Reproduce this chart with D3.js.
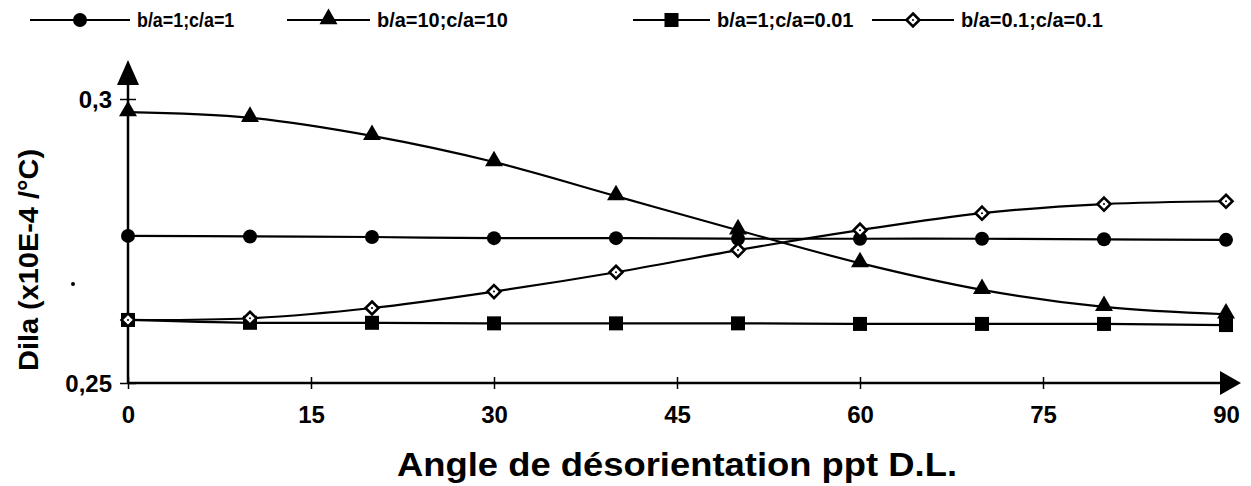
<!DOCTYPE html>
<html><head><meta charset="utf-8">
<script src="https://cdn.jsdelivr.net/npm/d3@7"></script>
<style>body{margin:0;background:#fff}svg{display:block}text{font-family:"Liberation Sans",Arial,sans-serif;fill:#000}</style>
</head><body><svg id="c" width="1251" height="486"></svg>
<script>
const angles = [0,10,20,30,40,50,60,70,80,90];
const seriesNames = ["b/a=1;c/a=1","b/a=10;c/a=10","b/a=1;c/a=0.01","b/a=0.1;c/a=0.1"];
const sCircle   = [0.2759,0.2758,0.2757,0.2755,0.2755,0.2754,0.2754,0.2754,0.2753,0.2752];
const sTriangle = [0.2977,0.2967,0.2935,0.2889,0.2829,0.2769,0.2711,0.2664,0.2634,0.2621];
const sSquare   = [0.2611,0.2606,0.2606,0.2605,0.2605,0.2605,0.2604,0.2604,0.2604,0.2602];
const sDiamond  = [0.2611,0.2614,0.2632,0.2661,0.2695,0.2734,0.2769,0.2799,0.2815,0.2820];
const xTicks = [0,15,30,45,60,75,90];
const yTicks = [0.25,0.3];
const yTickLabels = ["0,25","0,3"];
const xTitle = "Angle de désorientation ppt D.L.";
const yTitle = "Dila (x10E-4 /°C)";

const svg = d3.select("#c");
const x = d3.scaleLinear().domain([0,90]).range([128,1226]);
const y = d3.scaleLinear().domain([0.25,0.3]).range([383,99]);

const series = [
  {name:seriesNames[0], vals:sCircle, sym:"circle"},
  {name:seriesNames[1], vals:sTriangle, sym:"triangle"},
  {name:seriesNames[2], vals:sSquare, sym:"square"},
  {name:seriesNames[3], vals:sDiamond, sym:"diamond"}
];

function marker(g, sym, cx, cy){
  if(sym==="circle") g.append("circle").attr("cx",cx).attr("cy",cy).attr("r",7).attr("fill","#000");
  else if(sym==="triangle") g.append("path").attr("d",d3.symbol(d3.symbolTriangle,140)()).attr("transform",`translate(${cx},${cy-1})`).attr("fill","#000");
  else if(sym==="square") g.append("rect").attr("x",cx-7).attr("y",cy-7).attr("width",14).attr("height",14).attr("fill","#000");
  else if(sym==="diamond") {
    g.append("path").attr("d",`M${cx},${cy-6.5}L${cx+6.5},${cy}L${cx},${cy+6.5}L${cx-6.5},${cy}Z`).attr("fill","#fff").attr("stroke","#000").attr("stroke-width",2.6);
    g.append("circle").attr("cx",cx).attr("cy",cy).attr("r",1).attr("fill","#000");
  }
}

// axes
const ax = svg.append("g");
ax.append("line").attr("x1",x(0)).attr("x2",1222).attr("y1",y(0.25)).attr("y2",y(0.25)).attr("stroke","#000").attr("stroke-width",2.5);
ax.append("path").attr("d",`M1220,${y(0.25)-12}L1241,${y(0.25)}L1220,${y(0.25)+12}Z`).attr("fill","#000");
ax.append("line").attr("x1",x(0)).attr("x2",x(0)).attr("y1",y(0.25)).attr("y2",84).attr("stroke","#000").attr("stroke-width",2.5);
ax.append("path").attr("d",`M${x(0)-11},85L${x(0)},60L${x(0)+11},85Z`).attr("fill","#000");

const xa = d3.axisBottom(x).tickValues(xTicks).tickSize(0).tickFormat(d3.format("d"));
const gx = svg.append("g").attr("transform",`translate(0,${y(0.25)})`).call(xa);
gx.select(".domain").remove();
gx.selectAll(".tick line").remove();
gx.selectAll(".tick").append("line").attr("y1",-6).attr("y2",6).attr("stroke","#000").attr("stroke-width",1.5);
gx.selectAll(".tick text").attr("y",40).attr("dy",0).style("font-size","24px").style("font-weight","bold").attr("fill","#000");

const ya = d3.axisLeft(y).tickValues(yTicks).tickSize(0).tickFormat((d,i)=>yTickLabels[i]);
const gy = svg.append("g").attr("transform",`translate(${x(0)},0)`).call(ya);
gy.select(".domain").remove();
gy.selectAll(".tick line").remove();
gy.selectAll(".tick").append("line").attr("x1",-8).attr("x2",8).attr("stroke","#000").attr("stroke-width",1.5);
gy.selectAll(".tick text").attr("x",-16).attr("dy","0.36em").style("font-size","24px").style("font-weight","bold").attr("fill","#000");

// titles
svg.append("text").attr("x",677).attr("y",476).attr("text-anchor","middle").style("font-size","33px").style("font-weight","bold")
  .attr("textLength",560).attr("lengthAdjust","spacingAndGlyphs").text(xTitle);
svg.append("text").attr("transform","translate(38,260) rotate(-90)").attr("text-anchor","middle").style("font-size","28px").style("font-weight","bold")
  .attr("textLength",222).attr("lengthAdjust","spacingAndGlyphs").text(yTitle);
svg.append("circle").attr("cx",73).attr("cy",284).attr("r",2).attr("fill","#000");

// series
const line = d3.line().x((d,i)=>x(angles[i])).y(d=>y(d)).curve(d3.curveCardinal.tension(0));
series.forEach(s=>{
  const g = svg.append("g");
  g.append("path").attr("d",line(s.vals)).attr("fill","none").attr("stroke","#000").attr("stroke-width",2.2);
  s.vals.forEach((v,i)=>marker(g,s.sym,x(angles[i]),y(v)));
});

// legend
const legendX = [30,287,633,872];
const legendW = [100,83,77,82];
const lg = svg.append("g");
series.forEach((s,i)=>{
  const lx = legendX[i], lw = legendW[i], ly = 20;
  lg.append("line").attr("x1",lx).attr("x2",lx+lw).attr("y1",ly).attr("y2",ly).attr("stroke","#000").attr("stroke-width",2.2);
  marker(lg,s.sym,lx+lw/2,ly);
  const t = lg.append("text").attr("x",lx+lw+7).attr("y",ly+7).style("font-size","21px").style("font-weight","bold").text(s.name);
  const w = t.node().getComputedTextLength();
  t.attr("textLength",w*(i===0?0.85:0.95)).attr("lengthAdjust","spacingAndGlyphs");
});
</script></body></html>
